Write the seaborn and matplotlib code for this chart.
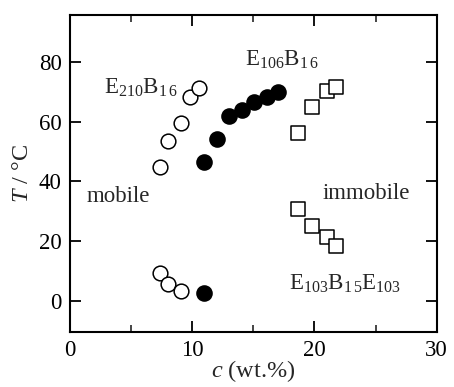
import numpy as np
import pandas as pd
import matplotlib
matplotlib.use("Agg")
import matplotlib.pyplot as plt
import seaborn as sns

# Data
e210_c = [7.36, 8.04, 9.05, 9.82, 10.58, 7.36, 8.04, 9.05]
e210_T = [44.9, 53.6, 59.4, 68.1, 71.1, 9.5, 5.7, 3.5]

e106_c = [10.96, 12.0, 12.98, 14.1, 15.05, 16.09, 17.02, 10.96]
e106_T = [46.6, 54.2, 61.8, 63.8, 66.6, 68.1, 70.0, 2.8]

e103_c = [18.63, 19.77, 21.0, 21.73, 18.63, 19.77, 21.0, 21.73]
e103_T = [56.3, 65.0, 70.3, 71.4, 30.8, 25.1, 21.3, 18.5]

x_ticks = [0, 10, 20, 30]
y_ticks = [0, 20, 40, 60, 80]

sns.set_theme(style="ticks")
plt.rcParams['font.family'] = ['Liberation Serif', 'DejaVu Serif']
plt.rcParams['mathtext.fontset'] = 'custom'
plt.rcParams['mathtext.rm'] = 'Liberation Serif'
plt.rcParams['mathtext.it'] = 'Liberation Serif:italic'

fig = plt.figure(figsize=(4.54, 3.87), dpi=100)
ax = fig.add_axes([70/454, 1 - 331.7/387, (436.7-70)/454, (331.7-15)/387])

df1 = pd.DataFrame({"c": e210_c, "T": e210_T})
df2 = pd.DataFrame({"c": e106_c, "T": e106_T})
df3 = pd.DataFrame({"c": e103_c, "T": e103_T})

sns.scatterplot(data=df1, x="c", y="T", ax=ax, marker="o", s=112,
                facecolor="white", edgecolor="black", linewidth=1.1, zorder=3)
sns.scatterplot(data=df2, x="c", y="T", ax=ax, marker="o", s=118,
                facecolor="black", edgecolor="black", linewidth=1.1, zorder=3)
sns.scatterplot(data=df3, x="c", y="T", ax=ax, marker="s", s=105,
                facecolor="white", edgecolor="black", linewidth=1.1, zorder=3)

ax.set_xlim(0, 30)
ax.set_ylim(-10.2, 95.6)
ax.set_xticks(x_ticks)
ax.set_yticks(y_ticks)
ax.set_xticks([5, 15, 25], minor=True)
ax.tick_params(axis='both', which='major', direction='in', length=8, width=1.3,
               top=True, right=True, labelsize=16.5, pad=6, colors='black')
ax.tick_params(axis='x', which='minor', direction='in', length=5, width=1.2,
               top=True, bottom=True)
for sp in ax.spines.values():
    sp.set_linewidth(1.5)
    sp.set_color('black')

ax.set_xlabel(r"$c$ (wt.%)", fontsize=17.5, labelpad=-2)
ax.set_ylabel(r"$T$ / °C", fontsize=17.5, labelpad=4)

fs = 16.5
ax.text(1.36, 34.9, "mobile", fontsize=fs, va='center', ha='left')
ax.text(20.67, 36.0, "immobile", fontsize=fs, va='center', ha='left')
ax.text(2.8, 71.4, r"E$_{210}$B$_{1\,6}$", fontsize=fs, va='center', ha='left')
ax.text(14.3, 80.5, r"E$_{106}$B$_{1\,6}$", fontsize=fs, va='center', ha='left')
ax.text(17.9, 5.9, r"E$_{103}$B$_{1\,5}$E$_{103}$", fontsize=fs, va='center', ha='left')

fig.savefig("out.png", dpi=100)
